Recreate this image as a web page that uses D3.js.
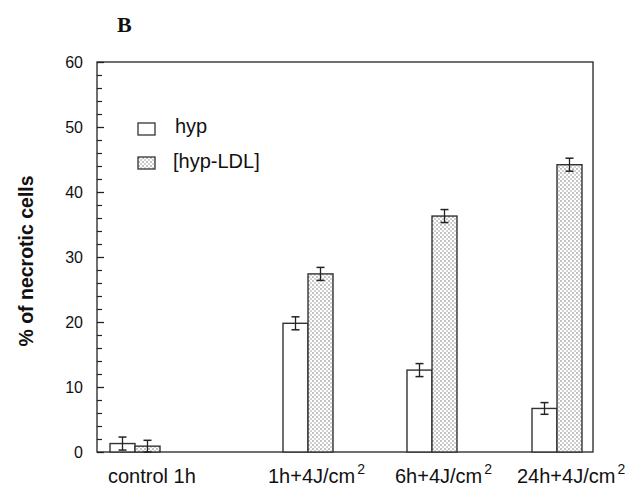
<!DOCTYPE html>
<html>
<head>
<meta charset="utf-8">
<script src="https://cdn.jsdelivr.net/npm/d3@7"></script>
<style>
  body { margin: 0; background: #fff; }
  text { font-family: "Liberation Sans", Arial, sans-serif; fill: #111; }
</style>
</head>
<body>
<svg id="chart" width="632" height="486"></svg>
<script>
// data
var categories = ["control 1h", "1h+4J/cm", "6h+4J/cm", "24h+4J/cm"];
var hypValues = [1.3, 19.8, 12.6, 6.7];
var hypErrors = [1.0, 1.0, 1.0, 0.9];
var ldlValues = [0.9, 27.4, 36.3, 44.2];
var ldlErrors = [0.9, 1.0, 1.0, 1.0];
var seriesNames = ["hyp", "[hyp-LDL]"];
var yTicks = [0, 10, 20, 30, 40, 50, 60];

var svg = d3.select("#chart");

// plot box (note: "top" would clash with window.top)
var plotLeft = 97, plotRight = 593, plotTop = 62, plotBottom = 452;

var y = d3.scaleLinear().domain([0, 60]).range([plotBottom, plotTop]);
// group centres are not evenly spaced in the original
var xGroup = d3.scaleOrdinal().domain(categories).range([135, 308, 432, 557]);
// left edge of each category label
var xLabel = d3.scaleOrdinal().domain(categories).range([108, 268, 395, 517]);
var barW = 25;

// stipple pattern for hyp-LDL
var defs = svg.append("defs");
var pat = defs.append("pattern")
    .attr("id", "dots")
    .attr("patternUnits", "userSpaceOnUse")
    .attr("width", 4).attr("height", 4);
pat.append("rect").attr("width", 4).attr("height", 4).attr("fill", "#fff");
pat.append("circle").attr("cx", 1).attr("cy", 1).attr("r", 0.8).attr("fill", "#777");
pat.append("circle").attr("cx", 3).attr("cy", 3).attr("r", 0.8).attr("fill", "#999");

// frame
svg.append("rect")
    .attr("x", plotLeft).attr("y", plotTop)
    .attr("width", plotRight - plotLeft).attr("height", plotBottom - plotTop)
    .attr("fill", "none").attr("stroke", "#222").attr("stroke-width", 1.3);

// y axis, ticks pointing inward
var yAxis = d3.axisRight(y).tickValues(yTicks).tickSize(7).tickFormat("");
var gy = svg.append("g").attr("transform", "translate(" + plotLeft + ",0)").call(yAxis);
gy.select(".domain").remove();
gy.selectAll("line").attr("stroke", "#222").attr("stroke-width", 1.3);

var minor = d3.range(0, 61, 2).filter(function (v) { return v % 10 !== 0; });
var yMinor = d3.axisRight(y).tickValues(minor).tickSize(5).tickFormat("");
var gm = svg.append("g").attr("transform", "translate(" + plotLeft + ",0)").call(yMinor);
gm.select(".domain").remove();
gm.selectAll("line").attr("stroke", "#222").attr("stroke-width", 1.2);

svg.selectAll(".ylab")
    .data(yTicks).enter().append("text")
    .attr("class", "ylab")
    .attr("x", plotLeft - 14)
    .attr("y", function (d) { return y(d) + 6; })
    .attr("text-anchor", "end")
    .style("font-size", "16px")
    .text(function (d) { return d; });

// bars
var hypData = categories.map(function (c, i) { return { c: c, v: hypValues[i], e: hypErrors[i] }; });
var ldlData = categories.map(function (c, i) { return { c: c, v: ldlValues[i], e: ldlErrors[i] }; });

svg.selectAll(".hyp")
    .data(hypData).enter().append("rect")
    .attr("class", "hyp")
    .attr("x", function (d) { return xGroup(d.c) - barW; })
    .attr("y", function (d) { return y(d.v); })
    .attr("width", barW)
    .attr("height", function (d) { return plotBottom - y(d.v); })
    .attr("fill", "#fff").attr("stroke", "#333").attr("stroke-width", 1.4);

svg.selectAll(".ldl")
    .data(ldlData).enter().append("rect")
    .attr("class", "ldl")
    .attr("x", function (d) { return xGroup(d.c); })
    .attr("y", function (d) { return y(d.v); })
    .attr("width", barW)
    .attr("height", function (d) { return plotBottom - y(d.v); })
    .attr("fill", "url(#dots)").attr("stroke", "#333").attr("stroke-width", 1.4);

// error bars
function errorBars(data, offset, cls) {
    var g = svg.selectAll("." + cls).data(data).enter().append("g").attr("class", cls)
        .attr("transform", function (d) { return "translate(" + (xGroup(d.c) + offset) + ",0)"; });
    g.append("line")
        .attr("y1", function (d) { return y(d.v - d.e); })
        .attr("y2", function (d) { return y(d.v + d.e); })
        .attr("stroke", "#222").attr("stroke-width", 1.3);
    g.append("line")
        .attr("x1", -4).attr("x2", 4)
        .attr("y1", function (d) { return y(d.v + d.e); })
        .attr("y2", function (d) { return y(d.v + d.e); })
        .attr("stroke", "#222").attr("stroke-width", 1.5);
    g.append("line")
        .attr("x1", -4).attr("x2", 4)
        .attr("y1", function (d) { return y(d.v - d.e); })
        .attr("y2", function (d) { return y(d.v - d.e); })
        .attr("stroke", "#222").attr("stroke-width", 1.5);
}
errorBars(hypData, -barW / 2, "errHyp");
errorBars(ldlData, barW / 2, "errLdl");

// x labels
var xl = svg.selectAll(".xlab")
    .data(categories).enter().append("text")
    .attr("class", "xlab")
    .attr("x", function (d) { return xLabel(d); })
    .attr("y", 483)
    .style("font-size", "20px");
xl.append("tspan").text(function (d) { return d; });
xl.filter(function (d, i) { return i > 0; })
    .append("tspan").attr("dx", 2).attr("dy", -9).style("font-size", "14px").text("2");

// y title
svg.append("text")
    .attr("transform", "translate(33," + 261 + ") rotate(-90)")
    .attr("text-anchor", "middle")
    .style("font-size", "19.5px").style("font-weight", "bold")
    .text("% of necrotic cells");

// panel letter
svg.append("text")
    .attr("x", 117).attr("y", 32)
    .style("font-family", "'Liberation Serif', 'Times New Roman', serif")
    .style("font-size", "22px").style("font-weight", "bold")
    .text("B");

// legend
var legend = svg.selectAll(".leg")
    .data(seriesNames).enter().append("g")
    .attr("class", "leg")
    .attr("transform", function (d, i) { return "translate(138," + (123 + i * 34) + ")"; });
legend.append("rect")
    .attr("width", 17).attr("height", 12)
    .attr("fill", function (d, i) { return i === 0 ? "#fff" : "url(#dots)"; })
    .attr("stroke", "#333").attr("stroke-width", 1.3);
legend.append("text")
    .attr("x", function (d, i) { return i === 0 ? 37 : 35; })
    .attr("y", function (d, i) { return i === 0 ? 10 : 11; })
    .style("font-size", "20px")
    .text(function (d) { return d; });
</script>
</body>
</html>
